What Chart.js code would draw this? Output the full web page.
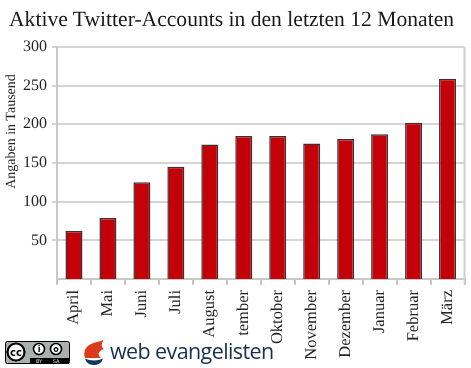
<!DOCTYPE html>
<html>
<head>
<meta charset="utf-8">
<script src="https://cdn.jsdelivr.net/npm/chart.js@4"></script>
<style>
  body { margin: 0; background: #fff; }
  #wrap { position: relative; width: 471px; height: 368px; overflow: hidden; }
  #logo { position: absolute; left: 0; top: 0; }
</style>
</head>
<body>
<div id="wrap">
  <canvas id="myChart" width="471" height="368"></canvas>
  <svg id="logo" width="471" height="368">
    <!-- cc badge -->
    <rect x="5.5" y="341.5" width="64" height="22" rx="2" fill="#aab0ab" stroke="#000"/>
    <rect x="30" y="358" width="39" height="5.5" fill="#000"/>
    <circle cx="16" cy="352" r="8.5" fill="#fff" stroke="#000" stroke-width="2.2"/>
    <text x="16" y="355.5" text-anchor="middle" font-family="DejaVu Sans" font-weight="bold" font-size="10">cc</text>
    <circle cx="39" cy="349" r="5.5" fill="#fff" stroke="#000" stroke-width="1.6"/>
    <text x="39" y="352" text-anchor="middle" font-family="DejaVu Sans" font-weight="bold" font-size="8">i</text>
    <circle cx="56" cy="349" r="5.5" fill="#fff" stroke="#000" stroke-width="1.6"/>
    <text x="56" y="352" text-anchor="middle" font-family="DejaVu Sans" font-weight="bold" font-size="8">o</text>
    <text x="39" y="363" text-anchor="middle" font-family="DejaVu Sans" font-size="5" fill="#ddd">BY</text>
    <text x="56" y="363" text-anchor="middle" font-family="DejaVu Sans" font-size="5" fill="#ddd">SA</text>
    <!-- flame -->
    <path d="M105 337 C104 342 98 341 91 344 C85 347 83 352 85 358 L101 358 C97 355 98 351 104 349 C100 347 102 342 105 337 Z" fill="#dc3a1c"/>
    <path d="M85 358.5 C90 361 98 361 103 358.5 C102 363 98 365 94 365 C90 365 86 363 85 358.5 Z" fill="#14375c"/>
    <text x="110" y="359" font-family="Open Sans" font-size="21.5" letter-spacing="-0.6" fill="#16304f">web evangelisten</text>
  </svg>
</div>
<script>
  const serif = "'Liberation Serif', serif";

  const monate = ["April", "Mai", "Juni", "Juli", "August", "tember", "Oktober", "November", "Dezember", "Januar", "Februar", "März"];
  const accounts = [62, 79, 125, 145, 174, 185, 185, 175, 181, 187, 202, 259];
  const yTicks = [50, 100, 150, 200, 250, 300];
  const yLabel = "Angaben in Tausend";

  // rechter Rahmen und Achsentitel (sitzt nicht mittig zur Achse)
  const extras = {
    id: "extras",
    beforeDraw(chart) {
      // ohne Hinting springt die Titelbreite nicht mit der Schriftgroesse
      chart.ctx.textRendering = "geometricPrecision";
    },
    beforeDatasetsDraw(chart) {
      const { ctx, chartArea } = chart;
      ctx.save();
      ctx.strokeStyle = "#cfcfcf";
      ctx.lineWidth = 2;
      ctx.beginPath();
      ctx.moveTo(chartArea.right, chartArea.top);
      ctx.lineTo(chartArea.right, chartArea.bottom + 5);
      ctx.stroke();
      ctx.restore();
    },
    afterDraw(chart) {
      const { ctx } = chart;
      ctx.save();
      ctx.translate(11, 131.5);
      ctx.rotate(-Math.PI / 2);
      ctx.textAlign = "center";
      ctx.textBaseline = "middle";
      ctx.fillStyle = "#222";
      ctx.font = "14px " + serif;
      ctx.fillText(yLabel, 0, 0);
      ctx.restore();
    }
  };

  const config_bar = {
    type: "bar",
    data: {
      labels: monate,
      datasets: [{
        data: accounts,
        backgroundColor: "#c40008",
        borderColor: "#3c3030",
        borderWidth: 1.5,
        barPercentage: 0.5,
        categoryPercentage: 1
      }]
    },
    options: {
      responsive: false,
      animation: false,
      layout: { padding: { left: 9, right: 6.5, top: 0, bottom: 0 } },
      plugins: {
        legend: { display: false },
        tooltip: { enabled: false },
        title: {
          display: true,
          text: "Aktive Twitter-Accounts in den letzten 12 Monaten",
          align: "start",
          color: "#1a1a1a",
          font: { family: serif, size: 21.6, weight: "normal" },
          padding: { top: 7, bottom: 14 }
        }
      },
      scales: {
        x: {
          grid: { drawOnChartArea: false, color: "#c8c8c8", lineWidth: 2, tickLength: 6 },
          border: { color: "#c8c8c8", width: 2 },
          ticks: {
            color: "#222",
            font: { family: serif, size: 16.5 },
            minRotation: 90,
            maxRotation: 90,
            autoSkip: false,
            padding: 5
          },
          afterFit(scale) {
            scale.height = 89;
            scale.paddingLeft = 0;
            scale.paddingRight = 0;
          }
        },
        y: {
          min: 0,
          max: 300,
          afterBuildTicks(scale) { scale.ticks = yTicks.map(v => ({ value: v })); },
          grid: { color: "#d4d4d4", lineWidth: 2, tickLength: 5 },
          border: { color: "#c8c8c8", width: 2 },
          ticks: {
            color: "#222",
            font: { family: serif, size: 16 },
            padding: 5
          },
          afterFit(scale) { scale.width = 48; }
        }
      }
    },
    plugins: [extras]
  };

  var myChart = new Chart(document.getElementById("myChart"), config_bar);
</script>
</body>
</html>
